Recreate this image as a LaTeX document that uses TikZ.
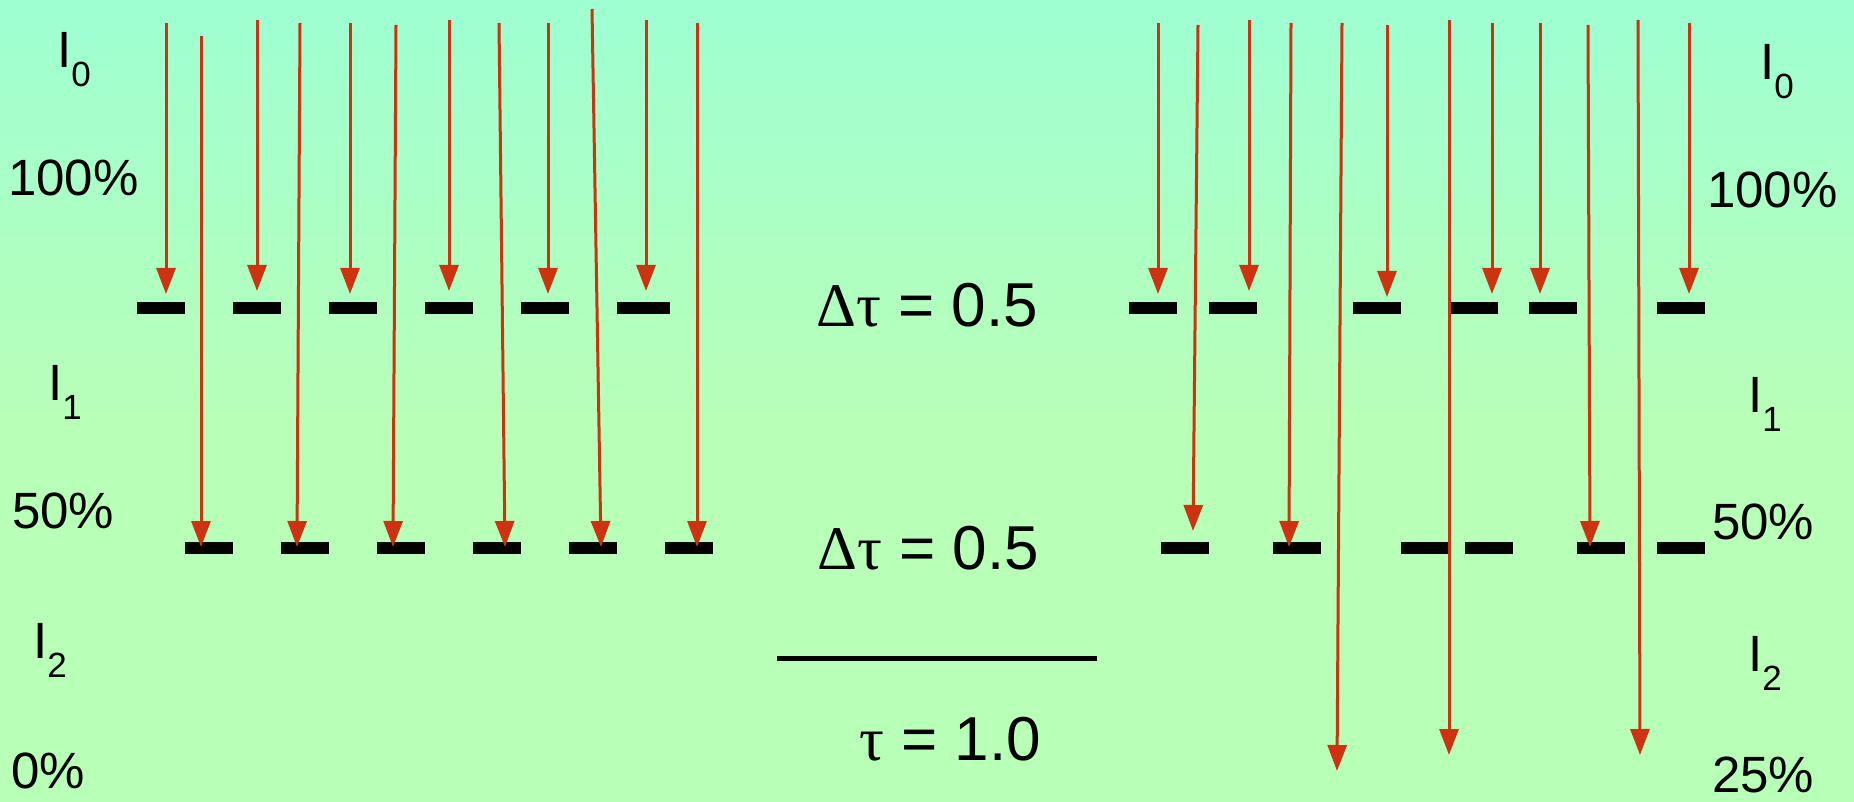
\documentclass[tikz,border=0pt]{standalone}
\usepackage{fontspec}
\setmainfont{Liberation Sans}
\newfontfamily\greekfont{Liberation Serif}
\usetikzlibrary{arrows.meta}
\definecolor{bgtop}{RGB}{158,255,210}
\definecolor{bgbot}{RGB}{184,255,184}
\definecolor{raycol}{RGB}{204,51,17}
\newcommand{\Isub}[1]{I\raisebox{-19pt}{\fontsize{35}{35}\selectfont #1}}
\begin{document}
\begin{tikzpicture}[x=1pt,y=-1pt,
  bar/.style={fill=black, inner sep=0, minimum height=12pt, minimum width=48pt},
  ray/.style={draw=raycol, line width=3pt, -{Triangle[width=19pt,length=26pt]}},
  lbl/.style={inner sep=0, anchor=base west, font=\fontsize{51}{51}\selectfont},
  taulbl/.style={inner sep=0, anchor=base east, font=\fontsize{62}{62}\selectfont}]
\useasboundingbox (0,0) rectangle (1854,802);
\fill[bgbot] (0,0) rectangle (1854,802);
\shade[top color=bgtop, bottom color=bgbot] (0,0) rectangle (1854,420);

% bars, left
\foreach \n/\x in {1/161,2/257,3/353,4/449,5/545}
  \node[bar] (lt\n) at (\x,308) {};
\node[bar, minimum width=53pt] (lt6) at (643.5,308) {};
\foreach \n/\x in {1/209,2/305,3/401,4/497,5/593,6/689}
  \node[bar] (lb\n) at (\x,548) {};
% bars, right
\foreach \n/\x in {1/1153,2/1233,3/1377,4/1474,5/1553,6/1681}
  \node[bar] (rt\n) at (\x,308) {};
\foreach \n/\x in {1/1185,2/1297,3/1424.5,4/1489,5/1601,6/1681}
  \node[bar] (rb\n) at (\x,548) {};

% rays
\foreach \n/\xa/\ya/\xb/\yb in {
  1/166/23/166/294, 2/257/20/257/291, 3/350/23/350/294,
  4/449/20/449/291, 5/548/23/548/294, 6/646/20/646/291,
  7/201/36/201/547, 8/300/23/297/547, 9/396/25/393/547,
  10/499/23/505/547, 11/592/9/601/547, 12/697/23/697/547,
  13/1158/23/1158/294, 14/1249/20/1249/291, 15/1387/25/1387/297,
  16/1492/23/1492/294, 17/1540/23/1540/294, 18/1689/23/1689/294,
  19/1198/25/1193/531, 20/1291/23/1289/547, 21/1342/23/1337/771,
  22/1449/20/1449/755, 23/1588/25/1590/547, 24/1638/20/1640/755}{
  \coordinate (s\n) at (\xa,\ya);
  \coordinate (e\n) at (\xb,\yb);
  \draw[ray] (s\n) -- (e\n);
}

% optical depth line
\coordinate (la) at (777,658);
\coordinate (lz) at (1097,658);
\draw[line width=5pt] (la) -- (lz);

% centre labels
\node[taulbl] (d1) at (1038,326) {{\greekfont Δτ} = 0.5};
\node[taulbl] (d2) at (1039,569) {{\greekfont Δτ} = 0.5};
\node[taulbl] (d3) at (1041,760) {{\greekfont τ} = 1.0};

% left labels
\node[lbl] (lI0) at (57,68) {\Isub{0}};
\node[lbl] (lp0) at (8,196) {100\%};
\node[lbl] (lI1) at (48,400) {\Isub{1}};
\node[lbl] (lp1) at (12,528) {50\%};
\node[lbl] (lI2) at (33,658) {\Isub{2}};
\node[lbl] (lp2) at (11,788) {0\%};
% right labels
\node[lbl] (rI0) at (1760,80) {\Isub{0}};
\node[lbl] (rp0) at (1707,208) {100\%};
\node[lbl] (rI1) at (1748,412) {\Isub{1}};
\node[lbl] (rp1) at (1712,539) {50\%};
\node[lbl] (rI2) at (1748,671) {\Isub{2}};
\node[lbl] (rp2) at (1712,792) {25\%};
\end{tikzpicture}
\end{document}
